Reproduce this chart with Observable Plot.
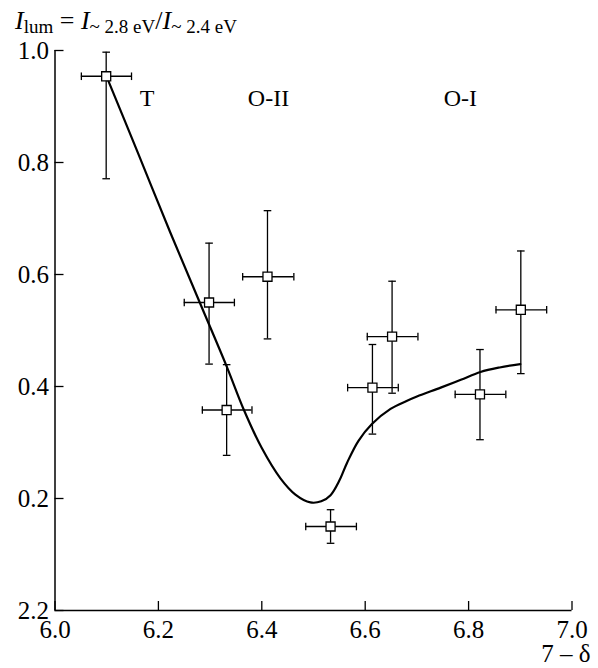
<!DOCTYPE html>
<html>
<head>
<meta charset="utf-8">
<script src="https://cdn.jsdelivr.net/npm/d3@7"></script>
<script src="https://cdn.jsdelivr.net/npm/@observablehq/plot@0.6"></script>
<style>
  html, body { margin: 0; padding: 0; background: #fff; }
  #wrap { position: relative; width: 598px; height: 668px; }
  #title { position: absolute; left: 15px; top: 8px; font-family: "Liberation Serif", serif; font-size: 26px; line-height: 1; white-space: nowrap; color: #000; }
  #title sub { font-size: 19px; vertical-align: -4px; line-height: 0; }
</style>
</head>
<body>
<div id="wrap">
  <div id="title"><i>I</i><sub>lum</sub> = <i>I</i><sub>~ 2.8 eV</sub>/<i>I</i><sub>~ 2.4 eV</sub></div>
</div>
<script>
// measured points
const xVal  = [6.099, 6.298, 6.411, 6.332, 6.533, 6.614, 6.652, 6.822, 6.901];
const yVal  = [0.954, 0.550, 0.596, 0.358, 0.150, 0.398, 0.489, 0.386, 0.537];
const yLow  = [0.771, 0.440, 0.485, 0.277, 0.120, 0.315, 0.388, 0.305, 0.423];
const yHigh = [0.997, 0.656, 0.714, 0.439, 0.180, 0.475, 0.588, 0.466, 0.642];
const xLow  = [6.051, 6.250, 6.363, 6.285, 6.485, 6.566, 6.604, 6.774, 6.853];
const xHigh = [6.148, 6.347, 6.462, 6.381, 6.583, 6.664, 6.702, 6.872, 6.951];

// guide curve
const curveX = [6.100, 6.160, 6.223, 6.280, 6.332, 6.365, 6.400, 6.436, 6.465, 6.494, 6.515, 6.533, 6.550, 6.565, 6.587, 6.613, 6.649, 6.680, 6.700, 6.746, 6.785, 6.823, 6.860, 6.900];
const curveY = [0.953, 0.818, 0.675, 0.550, 0.436, 0.359, 0.290, 0.236, 0.207, 0.193, 0.195, 0.206, 0.232, 0.264, 0.303, 0.333, 0.360, 0.374, 0.382, 0.398, 0.412, 0.426, 0.434, 0.440];

// phase labels
const phaseNames = ["T", "O-II", "O-I"];
const phaseX = [6.178, 6.413, 6.784];
const phaseY = [0.914, 0.914, 0.914];

// ticks
const xTicks = [6.0, 6.2, 6.4, 6.6, 6.8, 7.0];
const yTicks = [0, 0.2, 0.4, 0.6, 0.8, 1.0];
const yTickLabels = ["2.2", "0.2", "0.4", "0.6", "0.8", "1.0"];
const xAxisLabel = "7 – δ";

const points = xVal.map((x, i) => ({x, y: yVal[i], y1: yLow[i], y2: yHigh[i], x1: xLow[i], x2: xHigh[i]}));
const curve = curveX.map((x, i) => ({x, y: curveY[i]}));
const phases = phaseNames.map((t, i) => ({t, x: phaseX[i], y: phaseY[i]}));

const hCap = {draw(ctx, size) { const r = Math.sqrt(size / Math.PI); ctx.moveTo(-r, 0); ctx.lineTo(r, 0); }};
const vCap = {draw(ctx, size) { const r = Math.sqrt(size / Math.PI); ctx.moveTo(0, -r); ctx.lineTo(0, r); }};

const W = 598, H = 668, mL = 54.5, mR = 26.5, mT = 50, mB = 58;
const innerW = W - mL - mR, innerH = H - mT - mB;
const tickLen = 9;

const chart = Plot.plot({
  width: W, height: H,
  marginLeft: mL, marginRight: mR, marginTop: mT, marginBottom: mB,
  style: {fontFamily: "Liberation Serif, serif", fontSize: "25px", color: "#000", background: "#fff"},
  x: {domain: [6.0, 7.0]},
  y: {domain: [0, 1.0]},
  marks: [
    Plot.axisX({ticks: xTicks, tickSize: 0, tickPadding: 10, tickFormat: d => d.toFixed(1), label: null, fontSize: 25}),
    Plot.axisY({ticks: yTicks, tickSize: 0, tickPadding: 6, tickFormat: d => yTickLabels[yTicks.indexOf(d)], label: null, fontSize: 25}),
    Plot.tickX(xTicks, {x: d => d, stroke: "#000", strokeWidth: 1.3, insetTop: innerH - tickLen}),
    Plot.tickY(yTicks, {y: d => d, stroke: "#000", strokeWidth: 1.3, insetRight: innerW - tickLen}),
    Plot.ruleX([6.0], {stroke: "#000", strokeWidth: 1.5}),
    Plot.ruleY([0], {stroke: "#000", strokeWidth: 1.5}),
    Plot.text([xAxisLabel], {frameAnchor: "bottom-right", text: d => d, dx: 18.5, dy: 51, textAnchor: "end", lineAnchor: "bottom", fontSize: 25}),
    Plot.line(curve, {x: "x", y: "y", curve: "catmull-rom", stroke: "#000", strokeWidth: 2.2}),
    Plot.ruleX(points, {x: "x", y1: "y1", y2: "y2", stroke: "#000", strokeWidth: 1.3}),
    Plot.ruleY(points, {y: "y", x1: "x1", x2: "x2", stroke: "#000", strokeWidth: 1.3}),
    Plot.dot(points, {x: "x", y: "y1", symbol: hCap, r: 3.8, stroke: "#000", fill: "none", strokeWidth: 1.3}),
    Plot.dot(points, {x: "x", y: "y2", symbol: hCap, r: 3.8, stroke: "#000", fill: "none", strokeWidth: 1.3}),
    Plot.dot(points, {x: "x1", y: "y", symbol: vCap, r: 3.8, stroke: "#000", fill: "none", strokeWidth: 1.3}),
    Plot.dot(points, {x: "x2", y: "y", symbol: vCap, r: 3.8, stroke: "#000", fill: "none", strokeWidth: 1.3}),
    Plot.dot(points, {x: "x", y: "y", symbol: "square", r: 5.1, stroke: "#000", fill: "#fff", strokeWidth: 1.3}),
    Plot.text(phases, {x: "x", y: "y", text: "t", fontSize: 24, lineAnchor: "middle", textAnchor: "middle", fill: "#000"})
  ]
});
document.getElementById("wrap").prepend(chart);
chart.style.position = "absolute";
chart.style.left = "0";
chart.style.top = "0";
</script>
</body>
</html>
